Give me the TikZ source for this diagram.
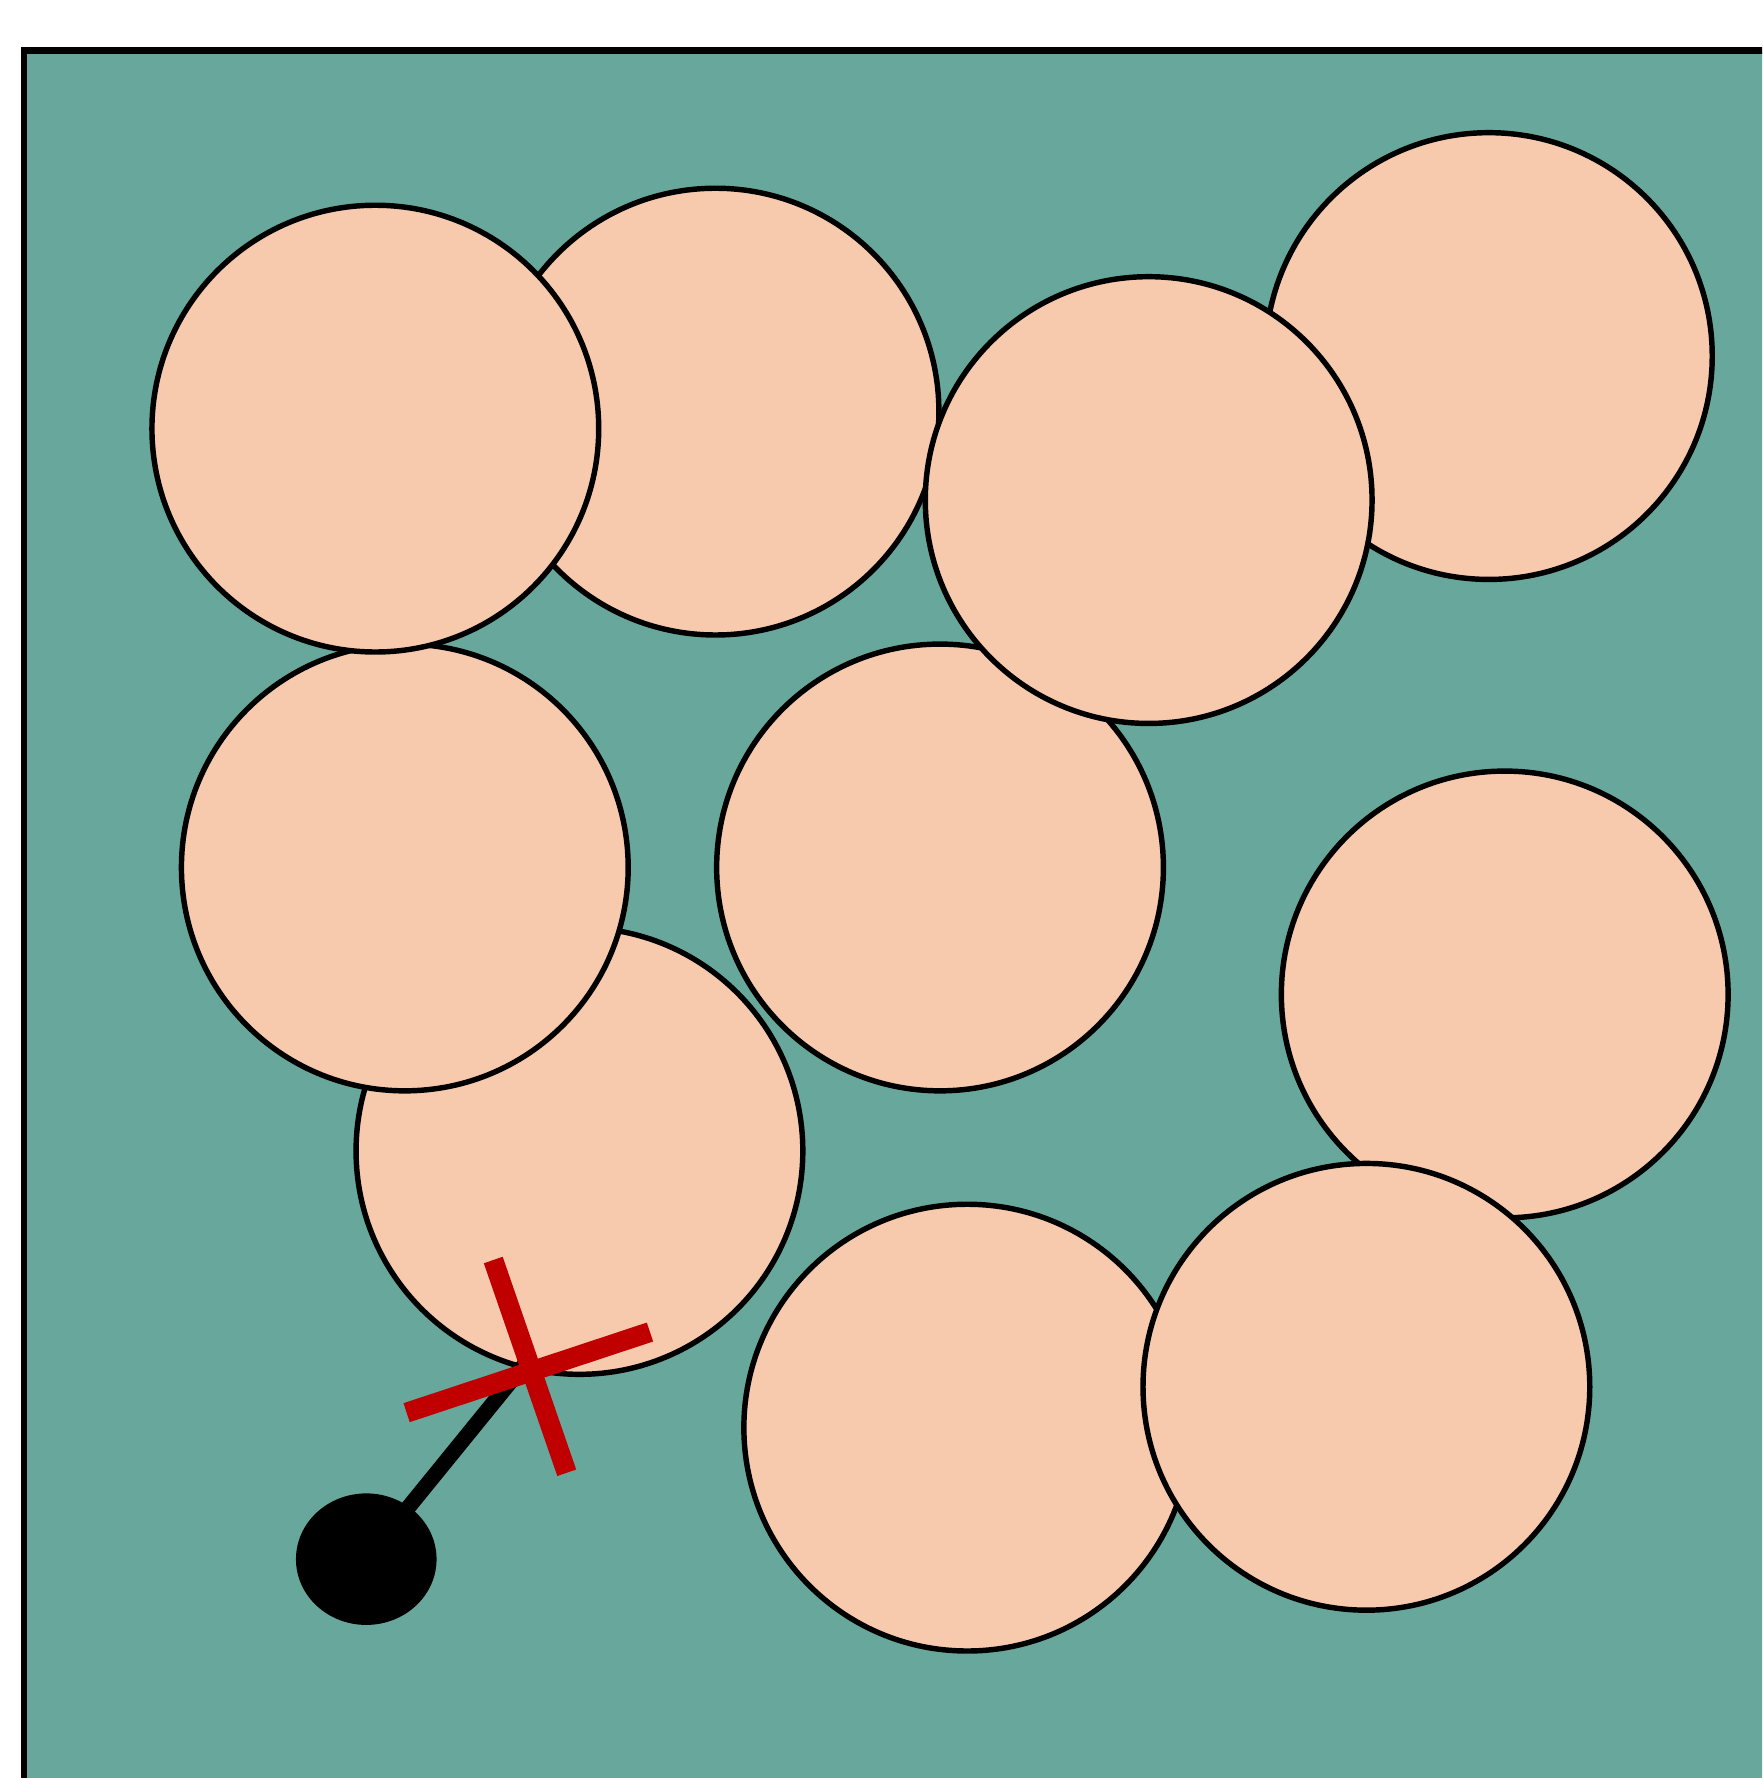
\documentclass[tikz,border=0pt]{standalone}
\usetikzlibrary{shapes.geometric}
\definecolor{bgteal}{HTML}{68A89C}
\definecolor{peach}{HTML}{F7CAAD}
\definecolor{xred}{HTML}{C00000}
\begin{document}
\begin{tikzpicture}[x=0.5pt,y=-0.5pt,
  ball/.style={circle,draw=black,fill=peach,line width=2.4pt,minimum size=197pt,inner sep=0pt},
  boundary/.style={draw=black,fill=bgteal,line width=2.9pt},
  crossline/.style={draw=xred,line width=8.8pt},
  stick/.style={draw=black,line width=6.8pt}]
\useasboundingbox (0,0) rectangle (1554,1568);
\clip (0,0) rectangle (1554,1568);
\path[boundary] (21,1620) -- (21,44.5) -- (1620,44.5) -- (1620,1620) -- cycle;
\node[ball] (c7) at (511,1015) {};
\node[ball] (c5) at (357,765) {};
\node[ball] (c1) at (631,363) {};
\node[ball] (c2) at (331,378) {};
\node[ball] (c6) at (829,765) {};
\node[ball] (c3) at (1313,314) {};
\node[ball] (c4) at (1013,441) {};
\node[ball] (c8) at (1327,877) {};
\node[ball] (c9) at (853,1259) {};
\node[ball] (c10) at (1205,1223) {};
\coordinate (tip) at (462,1204);
\node[ellipse,fill=black,minimum width=62pt,minimum height=58pt,inner sep=0pt] (blob) at (323,1375) {};
\draw[stick] (blob.center) -- (tip);
\coordinate (xa1) at (358.6,1245.8);
\coordinate (xa2) at (573.2,1174.7);
\coordinate (xb1) at (435,1111.2);
\coordinate (xb2) at (499.8,1298.8);
\draw[crossline] (xa1) -- (xa2);
\draw[crossline] (xb1) -- (xb2);
\end{tikzpicture}
\end{document}
